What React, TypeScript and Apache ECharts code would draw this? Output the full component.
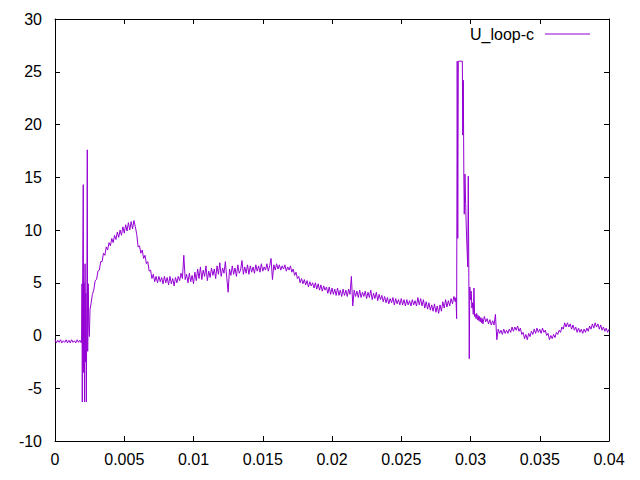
import React, { useEffect, useRef } from "react";
import * as echarts from "echarts";

// Sampling step of the regular segments (s)
const STEP = 0.0001;

// 0 .. 0.0019 s (pre-trigger)
const preStart = 0;
const preU = [-0.4, -0.7, -0.45, -0.65, -0.4, -0.7, -0.5, -0.65, -0.4, -0.7, -0.45, -0.7, -0.4, -0.65, -0.5, -0.7, -0.4, -0.65, -0.45, -0.7];

// burst around 0.002 s
const burstT = [0.00192, 0.00195, 0.00197, 0.002, 0.00204, 0.00207, 0.0021, 0.00213, 0.00217, 0.0022, 0.00223, 0.00226, 0.0023, 0.00233, 0.00236, 0.0024, 0.00244, 0.00248, 0.00253];
const burstU = [-0.6, 4.9, -6.3, 6.0, 14.3, -3.5, 5.0, -6.3, 6.8, -2.5, 4.0, -6.3, 3.0, 17.6, -1.5, 4.9, 1.0, -0.1, 2.5];

// 0.0026 .. 0.0289 s
const mainStart = 0.0026;
const mainU = [
  3.0, 3.9, 4.3, 5.2, 5.3, 6.1, 6.2, 7.0, 7.0, 7.8,
  7.6, 8.4, 8.1, 8.8, 8.5, 9.2, 8.8, 9.5, 9.1, 9.8,
  9.3, 10.0, 9.5, 10.3, 9.7, 10.5, 9.9, 10.7, 10.0, 10.8,
  10.1, 10.9, 10.3, 9.6, 8.4, 8.5, 7.8, 8.1, 7.3, 7.6,
  6.8, 7.0, 6.1, 6.2, 5.4, 5.8, 5.1, 5.6, 5.0, 5.6,
  5.1, 5.5, 4.9, 5.6, 5.0, 5.5, 4.8, 5.6, 4.9, 5.4,
  4.7, 5.5, 5.0, 5.6, 5.2, 5.9, 5.4, 7.6, 5.3, 5.8,
  5.0, 5.9, 5.1, 5.7, 4.9, 6.0, 5.2, 6.3, 5.4, 6.5,
  5.3, 6.2, 5.6, 6.6, 5.2, 6.1, 5.5, 6.4, 5.7, 6.3,
  5.4, 6.6, 5.8, 6.9, 5.6, 6.4, 5.9, 7.0, 5.5, 4.1,
  6.3, 5.7, 6.6, 5.8, 6.4, 5.6, 6.7, 5.9, 6.2, 7.1,
  5.8, 6.5, 5.9, 6.7, 5.8, 6.6, 6.0, 6.5, 5.9, 6.7,
  6.1, 6.6, 6.0, 6.8, 6.1, 6.5, 6.2, 6.8, 6.1, 6.6,
  7.3, 5.3, 6.7, 6.2, 6.8, 6.3, 6.7, 6.2, 6.6, 6.3,
  6.7, 6.1, 6.5, 6.2, 6.6, 6.0, 6.3, 5.7, 6.0, 5.4,
  5.6, 5.0, 5.4, 4.9, 5.3, 4.8, 5.2, 4.6, 5.1, 4.7,
  5.0, 4.5, 5.0, 4.4, 4.9, 4.3, 4.8, 4.2, 4.7, 4.3,
  4.6, 4.0, 4.6, 3.9, 4.5, 3.9, 4.4, 3.8, 4.5, 3.8,
  4.3, 3.7, 4.4, 3.8, 4.3, 3.7, 4.4, 3.9, 5.6, 2.8,
  4.3, 3.7, 4.2, 3.6, 4.3, 3.6, 4.1, 3.7, 4.2, 3.5,
  4.1, 3.6, 4.3, 3.4, 4.0, 3.5, 4.1, 3.3, 3.9, 3.4,
  3.8, 3.2, 3.7, 3.1, 3.6, 3.0, 3.5, 3.1, 3.6, 2.9,
  3.5, 3.0, 3.4, 2.9, 3.5, 2.9, 3.4, 2.8, 3.4, 2.9,
  3.3, 2.8, 3.4, 2.9, 3.3, 2.8, 3.6, 2.9, 3.5, 2.8,
  3.4, 2.6, 3.2, 2.5, 3.1, 2.4, 2.9, 2.3, 3.0, 2.2,
  2.8, 2.1, 2.9, 2.3, 3.2, 2.6, 3.4, 2.7, 3.3, 2.8,
  3.5, 3.0, 3.7, 3.2
];

// saturation event around 0.029 s
const spikeT = [0.02895, 0.029, 0.02904, 0.02908, 0.02912, 0.02941, 0.02944, 0.02948, 0.02952, 0.02955, 0.0296, 0.02965, 0.0297, 0.02975, 0.0298, 0.02984, 0.02988, 0.02991, 0.02995, 0.03, 0.03005, 0.0301, 0.03015, 0.0302, 0.03025, 0.0303, 0.03035, 0.0304, 0.03045, 0.0305, 0.03055, 0.0306, 0.03065, 0.0307, 0.03075, 0.0308, 0.03085, 0.0309, 0.03095];
const spikeU = [3.6, 1.6, 26, 9.2, 26, 26, 19, 24.2, 15, 11.5, 15.3, 12.5, 10, 8.2, 6.5, 15.1, 5.5, -2.2, 4.6, 3.4, 4.2, 2.6, 3.1, 2.0, 4.5, 1.8, 2.0, 1.6, 2.1, 1.5, 1.9, 1.4, 1.8, 1.3, 1.7, 1.2, 1.6, 1.1, 1.5];

// 0.031 .. 0.04 s
const tailStart = 0.031;
const tailU = [
  1.8, 1.3, 1.6, 1.1, 1.5, 1.0, 1.4, 1.0, 2.0, -0.4,
  0.6, 0.2, 0.5, 0.1, 0.6, 0.2, 0.5, 0.2, 0.6, 0.3,
  0.8, 0.4, 0.8, 0.5, 0.9, 0.4, 0.7, 0.1, 0.3, -0.3,
  0.1, -0.4, 0.2, -0.1, 0.4, 0.1, 0.6, 0.2, 0.7, 0.3,
  0.6, 0.2, 0.7, 0.3, 0.5, 0.0, 0.2, -0.4, 0.0, -0.3,
  0.1, -0.2, 0.3, 0.1, 0.5, 0.3, 0.8, 0.6, 1.2, 0.8,
  1.2, 0.8, 1.1, 0.6, 1.0, 0.5, 0.8, 0.3, 0.7, 0.3,
  0.6, 0.2, 0.6, 0.3, 0.7, 0.4, 0.9, 0.6, 1.1, 0.7,
  1.2, 0.8, 1.1, 0.6, 1.0, 0.5, 0.8, 0.4, 0.7, 0.3,
  0.6
];

const X_MIN = 0, X_MAX = 0.04, X_STEP = 0.005;
const Y_MIN = -10, Y_MAX = 30, Y_STEP = 5;
const SERIES_NAME = "U_loop-c";

function regular(start: number, vals: number[]): [number, number][] {
  return vals.map((v, i) => [+(start + i * STEP).toFixed(6), v]);
}
function pairs(ts: number[], vs: number[]): [number, number][] {
  return ts.map((t, i) => [t, vs[i]]);
}

const FONT = "Liberation Sans, Arial, sans-serif";

export default function App() {
  const ref = useRef<HTMLDivElement>(null);
  useEffect(() => {
    if (!ref.current) return;
    const chart = echarts.init(ref.current, undefined, { renderer: "svg" });
    const data = [
      ...regular(preStart, preU),
      ...pairs(burstT, burstU),
      ...regular(mainStart, mainU),
      ...pairs(spikeT, spikeU),
      ...regular(tailStart, tailU),
    ];
    const axisLine = { show: true, onZero: false, lineStyle: { color: "#000", width: 1 } };
    const tick = { show: true, inside: true, length: 5, lineStyle: { color: "#000", width: 1 } };
    chart.setOption({
      animation: false,
      backgroundColor: "#fff",
      grid: { left: 55, right: 31, top: 19, bottom: 39, containLabel: false },
      legend: {
        data: [SERIES_NAME],
        right: 45,
        top: 21,
        align: "right",
        icon: "rect",
        itemWidth: 45,
        itemHeight: 1,
        textStyle: { fontSize: 16, fontFamily: FONT, color: "#000", padding: [0, 6, 0, 0] },
      },
      xAxis: [
        {
          type: "value", min: X_MIN, max: X_MAX, interval: X_STEP, position: "bottom",
          axisLine, axisTick: tick, splitLine: { show: false },
          axisLabel: { fontSize: 16, fontFamily: FONT, color: "#000", margin: 10 },
        },
        {
          type: "value", min: X_MIN, max: X_MAX, interval: X_STEP, position: "top",
          axisLine, axisTick: tick, splitLine: { show: false }, axisLabel: { show: false },
        },
      ],
      yAxis: [
        {
          type: "value", min: Y_MIN, max: Y_MAX, interval: Y_STEP, position: "left",
          axisLine, axisTick: tick, splitLine: { show: false },
          axisLabel: { fontSize: 16, fontFamily: FONT, color: "#000", margin: 13 },
        },
        {
          type: "value", min: Y_MIN, max: Y_MAX, interval: Y_STEP, position: "right",
          axisLine, axisTick: tick, splitLine: { show: false }, axisLabel: { show: false },
        },
      ],
      series: [
        {
          name: SERIES_NAME,
          type: "line",
          xAxisIndex: 0,
          yAxisIndex: 0,
          data,
          showSymbol: false,
          symbol: "none",
          color: "#9400d3",
          lineStyle: { width: 1, color: "#9400d3" },
        },
      ],
    });
    return () => chart.dispose();
  }, []);
  return <div ref={ref} style={{ position: "fixed", left: 0, top: 0, width: 640, height: 480 }} />;
}
